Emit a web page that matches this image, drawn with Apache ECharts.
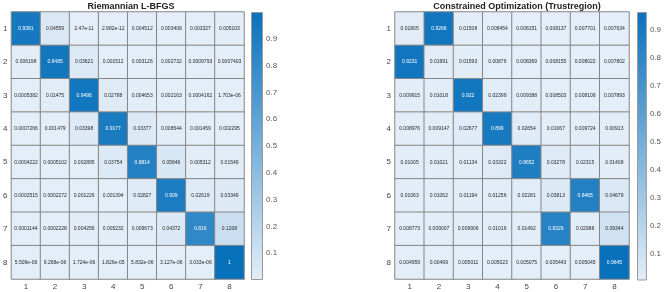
<!DOCTYPE html>
<html><head><meta charset="utf-8">
<script src="https://cdn.jsdelivr.net/npm/echarts@6/dist/echarts.min.js"></script>
<style>html,body{margin:0;padding:0;background:#fff}#c{width:664px;height:292px}</style>
</head><body><div id="c"></div>
<script>
const categories = ['1','2','3','4','5','6','7','8'];
const titleLeft = 'Riemannian L-BFGS';
const titleRight = 'Constrained Optimization (Trustregion)';
const colorbarTicks = [0.1,0.2,0.3,0.4,0.5,0.6,0.7,0.8,0.9];
const lbfgs = [
  [0.9381, 0.04559, 2.47e-11, 2.982e-12, 0.004512, 0.003408, 0.003327, 0.005103],
  [0.006198, 0.9485, 0.03621, 0.001512, 0.003126, 0.002732, 0.0009793, 0.0007403],
  [0.0005382, 0.01475, 0.9496, 0.02788, 0.004653, 0.002163, 0.0004162, 1.703e-06],
  [0.0007266, 0.001479, 0.03398, 0.9177, 0.03377, 0.008544, 0.001459, 0.002295],
  [0.0004222, 0.0005102, 0.002895, 0.03754, 0.8814, 0.05646, 0.005312, 0.01549],
  [0.0002515, 0.0002272, 0.001226, 0.001394, 0.02827, 0.909, 0.02619, 0.03349],
  [0.0001144, 0.0002228, 0.004256, 0.005232, 0.009673, 0.04372, 0.816, 0.1208],
  [5.509e-06, 9.268e-06, 1.724e-06, 1.826e-05, 5.832e-06, 3.127e-06, 3.033e-06, 1]
];
const trust = [
  [0.01805, 0.9268, 0.01508, 0.008454, 0.008151, 0.008137, 0.007701, 0.007634],
  [0.9231, 0.01991, 0.01593, 0.00876, 0.008369, 0.008155, 0.008022, 0.007802],
  [0.009915, 0.01018, 0.922, 0.02399, 0.009388, 0.008503, 0.008109, 0.007893],
  [0.008976, 0.009147, 0.02677, 0.899, 0.02654, 0.01067, 0.009724, 0.00913],
  [0.01005, 0.01021, 0.01134, 0.03322, 0.8652, 0.03278, 0.02315, 0.01408],
  [0.01063, 0.01062, 0.01194, 0.01256, 0.02281, 0.03813, 0.8465, 0.04679],
  [0.008773, 0.009007, 0.009906, 0.01016, 0.01492, 0.8329, 0.02088, 0.09344],
  [0.004959, 0.00499, 0.005011, 0.005023, 0.005075, 0.005443, 0.005045, 0.9645]
];

const LIGHT = '#e4eef8', DARK = '#0871bc';
const FONT = 'Liberation Sans, Arial, sans-serif';

function fmt(v){
  if (v === 0) return '0';
  const e = Math.floor(Math.log10(Math.abs(v)));
  if (e < -4 || e >= 4) {
    let s = v.toExponential(3);
    let [m, ex] = s.split('e');
    if (m.indexOf('.')>=0) m = m.replace(/0+$/,'').replace(/\.$/,'');
    let sign = ex[0]; let d = ex.slice(1);
    if (d.length < 2) d = '0' + d;
    return m + 'e' + sign + d;
  }
  let s = v.toPrecision(4);
  if (s.indexOf('.')>=0) s = s.replace(/0+$/,'').replace(/\.$/,'');
  return s;
}
function flat(m){ return m.reduce((a,r)=>a.concat(r),[]); }
function build(m){
  const all = flat(m); const mn = Math.min(...all), mx = Math.max(...all);
  const out = [];
  m.forEach((row, r) => row.forEach((v, c) => {
    const t = (v - mn) / (mx - mn);
    out.push({value:[c, r, v], label:{color: t > 0.55 ? '#ffffff' : '#262626'}});
  }));
  return {data: out, min: mn, max: mx};
}
const L = build(lbfgs), R = build(trust);

const G = [
  {left: 9, top: 12, width: 235, height: 267},
  {left: 395, top: 12, width: 234, height: 267},
  {left: 251, top: 12, width: 12, height: 268},
  {left: 637, top: 12, width: 13, height: 268}
];

function catX(gi){ return {type:'category', gridIndex:gi, data:categories, position:'bottom',
  axisLine:{show:false}, axisTick:{show:false}, splitLine:{show:false},
  axisLabel:{fontSize:8, color:'#444', margin:4, fontFamily:FONT}}; }
function catY(gi){ return {type:'category', gridIndex:gi, data:categories, inverse:true,
  axisLine:{show:false}, axisTick:{show:false}, splitLine:{show:false},
  axisLabel:{fontSize:8, color:'#444', margin:4, fontFamily:FONT}}; }
function cbX(gi){ return {type:'category', gridIndex:gi, data:['c'], show:false}; }
function cbY(gi, mn, mx){ return {type:'value', gridIndex:gi, min:mn, max:mx, position:'right',
  splitLine:{show:false}, axisLine:{show:false},
  axisTick:{show:true, inside:true, length:3, lineStyle:{color:'#666'}, customValues:colorbarTicks},
  axisLabel:{fontSize:8, color:'#555', margin:3, fontFamily:FONT, customValues:colorbarTicks,
    formatter: v => String(+v.toFixed(1))}}; }

function hm(xi, d){ return {type:'heatmap', xAxisIndex:xi, yAxisIndex:xi, data:d.data,
  itemStyle:{borderColor:'#868686', borderWidth:1},
  label:{show:true, fontSize:5, fontFamily:FONT, formatter: p => fmt(p.value[2])},
  emphasis:{disabled:true}}; }
function cb(xi, d){ return {type:'bar', xAxisIndex:xi, yAxisIndex:xi, data:[d.max], barWidth:'100%', silent:true,
  itemStyle:{borderColor:'#999', borderWidth:1,
    color:new echarts.graphic.LinearGradient(0,0,0,1,[{offset:0,color:DARK},{offset:1,color:LIGHT}])}}; }

const chart = echarts.init(document.getElementById('c'), null, {renderer:'canvas'});
chart.setOption({
  animation:false,
  backgroundColor:'#fff',
  title:[
    {text:titleLeft, left:126, top:-3, textAlign:'center', textStyle:{fontSize:9, fontWeight:'bold', color:'#222', fontFamily:FONT}},
    {text:titleRight, left:512, top:-3, textAlign:'center', textStyle:{fontSize:9, fontWeight:'bold', color:'#222', fontFamily:FONT}}
  ],
  grid:G,
  xAxis:[catX(0), catX(1), cbX(2), cbX(3)],
  yAxis:[catY(0), catY(1), cbY(2, L.min, L.max), cbY(3, R.min, R.max)],
  visualMap:[
    {show:false, type:'continuous', seriesIndex:0, dimension:2, min:L.min, max:L.max, inRange:{color:[LIGHT, DARK]}},
    {show:false, type:'continuous', seriesIndex:1, dimension:2, min:R.min, max:R.max, inRange:{color:[LIGHT, DARK]}}
  ],
  series:[hm(0, L), hm(1, R), cb(2, L), cb(3, R)]
});
</script></body></html>
